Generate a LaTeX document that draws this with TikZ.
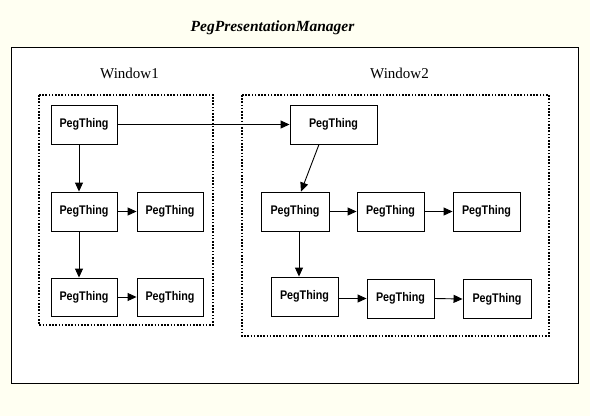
\documentclass[tikz,border=0pt]{standalone}
\usepackage{fontspec}
\setmainfont{Liberation Serif}
\newfontfamily\boxfont{Liberation Sans}[FakeStretch=0.86]
\usetikzlibrary{arrows.meta}
\definecolor{bgcol}{RGB}{255,255,242}
\tikzset{
  pt/.style={draw=black, line width=0.9pt, fill=white, inner sep=0pt,
    minimum height=39pt, minimum width=67pt,
    font=\boxfont\bfseries\fontsize{12.5}{14}\selectfont},
  arr/.style={line width=0.9pt, -{Triangle[length=9pt,width=8pt]}},
  winbox/.style={line width=1.6pt, dash pattern=on 1.6pt off 1.6pt},
}
\begin{document}
\begin{tikzpicture}[x=1pt,y=-1pt]
\fill[bgcol] (0,0) rectangle (590,416);
\useasboundingbox (0,0) rectangle (590,416);
% outer frame
\draw[line width=1pt, fill=white] (11,47) rectangle (578,383);
\node[font=\fontsize{15.5}{18}\selectfont\bfseries\itshape] (title) at (272.5,28) {PegPresentationManager};
\node[font=\fontsize{15}{18}\selectfont] (w1) at (129.5,73) {Window1};
\node[font=\fontsize{15}{18}\selectfont] (w2) at (399.5,73) {Window2};
% windows
\draw[winbox] (39,95) rectangle (213,325);
\draw[winbox] (242,95) rectangle (549,336);
% Window1 things
\node[pt, minimum width=66pt] (b1) at (84,124.5) {PegThing};
\node[pt, minimum width=66pt] (b2) at (84,211.5) {PegThing};
\node[pt, minimum width=66pt] (b3) at (170,211.5) {PegThing};
\node[pt, minimum width=66pt, minimum height=38pt] (b4) at (84,297) {PegThing};
\node[pt, minimum width=66pt, minimum height=38pt] (b5) at (170,297) {PegThing};
% Window2 things
\node[pt, minimum width=87pt] (c1) at (333.5,124.5) {PegThing};
\node[pt, minimum width=68pt] (c2) at (295,211.5) {PegThing};
\node[pt] (c3) at (390.5,211.5) {PegThing};
\node[pt] (c4) at (486.5,211.5) {PegThing};
\node[pt] (c5) at (304.5,296.5) {PegThing};
\node[pt] (c6) at (400.5,298.5) {PegThing};
\node[pt, minimum width=68pt] (c7) at (497,299) {PegThing};
% connectors
\draw[arr] (b1.east) -- (c1.west);
\draw[arr] ([xshift=-5pt]b1.south) -- ([xshift=-5pt]b2.north);
\draw[arr] ([xshift=-5pt]b2.south) -- ([xshift=-5pt]b4.north);
\draw[arr] (b2.east) -- (b3.west);
\draw[arr] (b4.east) -- (b5.west);
\draw[arr] ([xshift=-14.5pt]c1.south) -- ([xshift=6pt]c2.north);
\draw[arr] ([xshift=4pt]c2.south) -- ([xshift=4pt]c2.south |- c5.north);
\draw[arr] (c2.east) -- (c3.west);
\draw[arr] (c3.east) -- (c4.west);
\draw[arr] (c5.east |- c6.west) -- (c6.west);
\draw[arr] (c6.east) -- (c7.west);
\end{tikzpicture}
\end{document}
